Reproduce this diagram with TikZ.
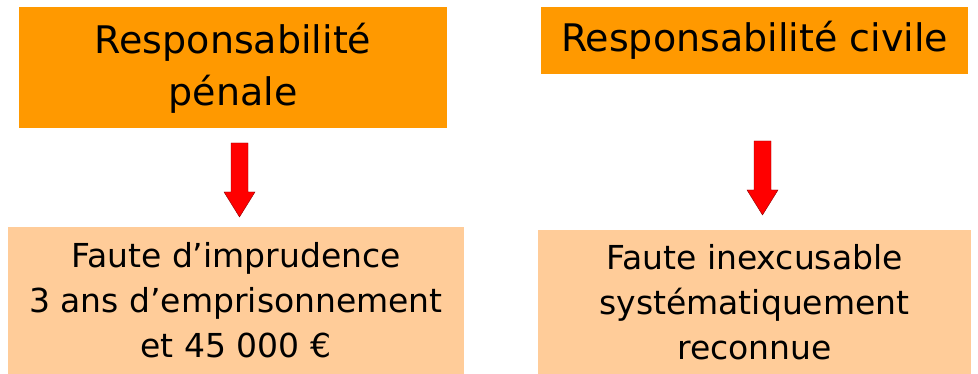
\documentclass[tikz,border=0pt]{standalone}
\usepackage{fontspec}
\setmainfont{DejaVu Sans}
\definecolor{orangefonce}{HTML}{FF9900}
\definecolor{orangeclair}{HTML}{FFCC99}
\tikzset{
	titre/.style={fill=orangefonce, inner sep=0pt, align=center,
		font=\fontsize{38}{52}\selectfont},
	consequence/.style={fill=orangeclair, inner sep=0pt, align=center,
		font=\fontsize{33}{45}\selectfont},
	fleche/.style={fill=red, draw=red!55!black, line width=.4pt}
}
\begin{document}
\begin{tikzpicture}[x=1pt,y=-1pt]
	\useasboundingbox (0,0) rectangle (978,374);
	% les deux responsabilites
	\node[titre, minimum width=428, minimum height=121] (penale) at (233,68)
		{Responsabilité\\pénale};
	\node[titre, minimum width=427, minimum height=67] (civile) at (754.5,40.5)
		{Responsabilité civile};
	% ce qui en decoule
	\node[consequence, minimum width=456, minimum height=147] (faute) at (236,300.5)
		{Faute d’imprudence\\3 ans d’emprisonnement\\et 45~000 €};
	\node[consequence, minimum width=433, minimum height=144] (inexc) at (754.5,302)
		{Faute inexcusable\\systématiquement\\reconnue};
	% fleches
	\coordinate (f1) at (239,143);
	\coordinate (f2) at (762,141);
	\foreach \f in {f1,f2}
		\draw[fleche] (\f) ++(-8,0) -- ++(17,0) -- ++(0,49) -- ++(7,0)
			-- ++(-15.5,25) -- ++(-15.5,-25) -- ++(7,0) -- cycle;
\end{tikzpicture}
\end{document}
